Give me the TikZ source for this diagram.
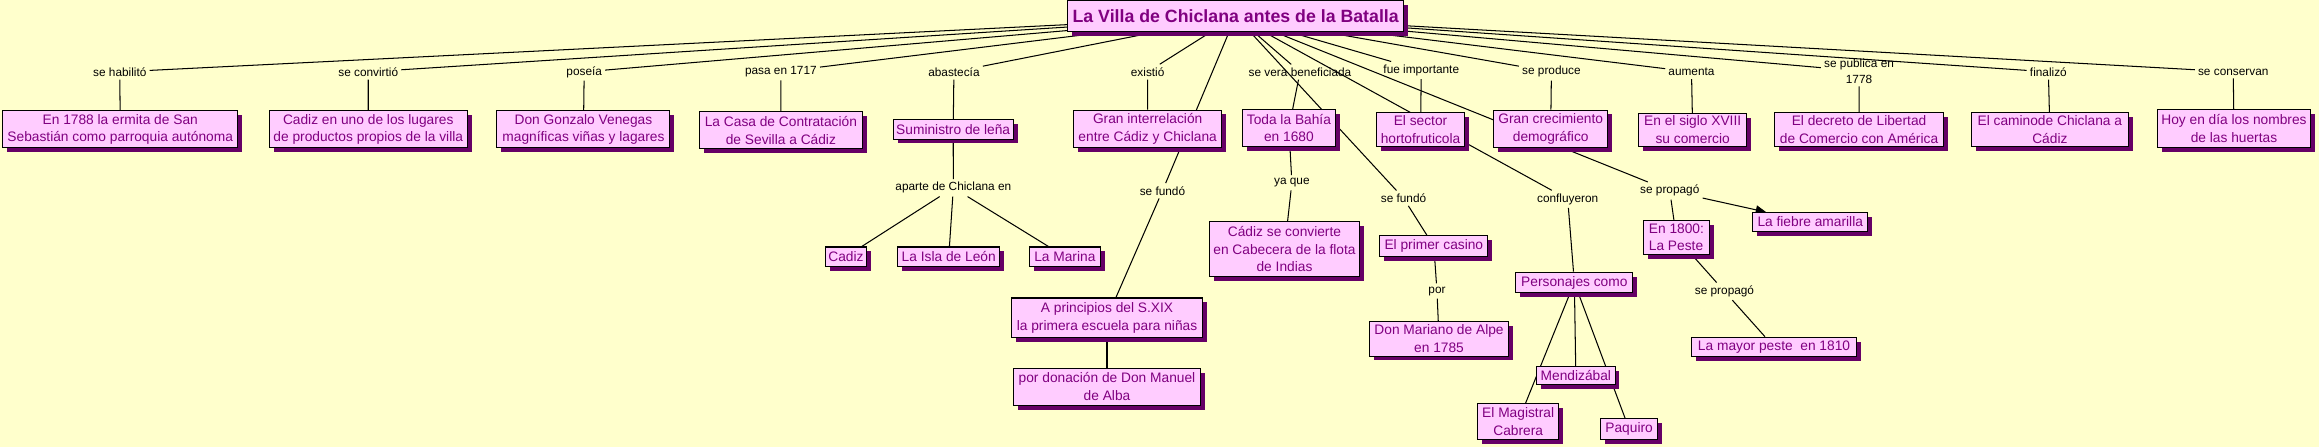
\documentclass[tikz,border=0pt]{standalone}
\usepackage{fontspec}
\setmainfont{Liberation Sans}
\usetikzlibrary{shadows,arrows.meta}
\definecolor{bgc}{HTML}{FFFFCC}
\definecolor{boxpink}{HTML}{FFCCFF}
\definecolor{boxtext}{HTML}{800080}
\definecolor{shadowc}{HTML}{660066}
\pgfdeclarelayer{bg}
\pgfsetlayers{bg,main}
\newcommand{\bxfont}{\fontsize{9.3}{12}\selectfont}
\newcommand{\lbfont}{\fontsize{8}{10.6}\selectfont}
\tikzset{
  cbox/.style={draw=black, line width=0.7pt, fill=boxpink, text=boxtext, font=\bxfont,
    align=center, inner sep=1pt,
    general shadow={fill=shadowc, shadow xshift=3pt, shadow yshift=-3pt}},
  lbl/.style={font=\lbfont, text=black, inner sep=2pt, align=center},
  conn/.style={draw=black, line width=0.7pt}
}
\begin{document}
\begin{tikzpicture}[x=1pt,y=-1pt]
\useasboundingbox (0,0) rectangle (1568,302);

% root
\node[cbox, font=\bfseries\fontsize{12}{14}\selectfont, minimum width=227pt, minimum height=21pt] (root) at (835.5,11) {La Villa de Chiclana antes de la Batalla};

% first row labels
\node[lbl] (hab) at (81,48.6) {se habilitó};
\node[lbl] (conv) at (249,48.6) {se convirtió};
\node[lbl] (pos) at (395,48.6) {poseía};
\node[lbl] (pasa) at (528,48.6) {pasa en 1717};
\node[lbl] (abas) at (645,48.6) {abastecía};
\node[lbl] (exis) at (776,48.6) {existió};
\node[lbl] (vera) at (879,48.7) {se vera beneficiada};
\node[lbl] (fue) at (961,47.5) {fue importante};
\node[lbl] (prod) at (1049,48.6) {se produce};
\node[lbl] (aum) at (1143.7,48.6) {aumenta};
\node[lbl] (publ) at (1257,48) {se publica en\\1778};
\node[lbl] (fin) at (1385,48.6) {finalizó};
\node[lbl] (cons) at (1510,48.6) {se conservan};

% first row boxes
\node[cbox, minimum width=159pt, minimum height=25pt] (b1) at (81.3,87.5) {En 1788 la ermita de San\\Sebastián como parroquia autónoma};
\node[cbox, minimum width=134pt, minimum height=25pt] (b2) at (249,87.5) {Cadiz en uno de los lugares\\de productos propios de la villa};
\node[cbox, minimum width=117pt, minimum height=25pt] (b3) at (394.5,87.5) {Don Gonzalo Venegas\\magníficas viñas y lagares};
\node[cbox, minimum width=110pt, minimum height=25pt] (b4) at (528,88) {La Casa de Contratación\\de Sevilla a Cádiz};
\node[cbox, minimum width=81pt, minimum height=13pt] (sumi) at (644.5,87.5) {Suministro de leña};
\node[cbox, minimum width=100pt, minimum height=25.6pt] (gran) at (776,87.2) {Gran interrelación\\entre Cádiz y Chiclana};
\node[cbox, minimum width=63pt, minimum height=25pt] (bahia) at (871.5,86.5) {Toda la Bahía\\en 1680};
\node[cbox, minimum width=59pt, minimum height=23pt] (sector) at (960.5,87.5) {El sector\\hortofruticola};
\node[cbox, minimum width=77pt, minimum height=25.6pt] (crec) at (1048.5,87.2) {Gran crecimiento\\demográfico};
\node[cbox, minimum width=73pt, minimum height=22.4pt] (siglo) at (1144.5,87.8) {En el siglo XVIII\\su comercio};
\node[cbox, minimum width=114pt, minimum height=23pt] (decreto) at (1257,87.5) {El decreto de Libertad\\de Comercio con América};
\node[cbox, minimum width=106pt, minimum height=23pt] (camino) at (1386,87.5) {El caminode Chiclana a\\Cádiz};
\node[cbox, minimum width=103pt, minimum height=26pt] (hoy) at (1510.5,87) {Hoy en día los nombres\\de las huertas};

% lower labels
\node[lbl] (aparte) at (644.6,127) {aparte de Chiclana en};
\node[lbl] (fundo1) at (786,129) {se fundó};
\node[lbl] (yaque) at (873.5,123.6) {ya que};
\node[lbl] (fundo2) at (949,134) {se fundó};
\node[lbl] (por) at (971.6,196.8) {por};
\node[lbl] (conf) at (1060,134.6) {confluyeron};
\node[lbl] (prop1) at (1129,129) {se propagó};
\node[lbl] (prop2) at (1166,197) {se propagó};

% lower boxes
\node[cbox, minimum width=28pt, minimum height=13pt] (cadiz) at (572,173.5) {Cadiz};
\node[cbox, minimum width=69pt, minimum height=13pt] (isla) at (641.5,173.5) {La Isla de León};
\node[cbox, minimum width=48pt, minimum height=13pt] (marina) at (720,173.5) {La Marina};
\node[cbox, minimum width=129pt, minimum height=27pt] (aprin) at (748.5,215) {A principios del S.XIX\\la primera escuela para niñas};
\node[cbox, minimum width=127pt, minimum height=25pt] (dona) at (748.5,261.5) {por donación de Don Manuel\\de Alba};
\node[cbox, minimum width=101pt, minimum height=37pt] (cadizcab) at (868.5,168.5) {Cádiz se convierte\\en Cabecera de la flota\\de Indias};
\node[cbox, minimum width=73pt, minimum height=14pt] (casino) at (969.5,166.5) {El primer casino};
\node[cbox, minimum width=94.5pt, minimum height=23.5pt] (alpe) at (973,229) {Don Mariano de Alpe\\en 1785};
\node[cbox, minimum width=79pt, minimum height=14pt] (perso) at (1064.5,191) {Personajes como};
\node[cbox, minimum width=53pt, minimum height=12.5pt] (mendi) at (1065.5,254) {Mendizábal};
\node[cbox, minimum width=55pt, minimum height=24pt] (magis) at (1026.5,285) {El Magistral\\Cabrera};
\node[cbox, minimum width=39pt, minimum height=14pt] (paquiro) at (1101.5,290) {Paquiro};
\node[cbox, minimum width=78pt, minimum height=12.5pt] (fiebre) at (1224,150) {La fiebre amarilla};
\node[cbox, align=left, minimum width=45pt, minimum height=23pt] (peste) at (1133.5,160.5) {En 1800:\\La Peste};
\node[cbox, minimum width=111pt, minimum height=13pt] (mayor) at (1199.5,234.5) {La mayor peste\ \ en 1810};

\begin{pgfonlayer}{bg}
\fill[bgc] (0,0) rectangle (1568,302);
\draw[conn] (root) -- (hab) (hab) -- (b1);
\draw[conn] (root) -- (conv) (conv) -- (b2);
\draw[conn] (root) -- (pos) (pos) -- (b3);
\draw[conn] (root) -- (pasa) (pasa) -- (b4);
\draw[conn] (root) -- (abas) (abas) -- (sumi);
\draw[conn] (root) -- (exis) (exis) -- (gran);
\draw[conn] (root) -- (fundo1) (fundo1) -- (aprin);
\draw[conn] (aprin) -- (dona);
\draw[conn] (sumi) -- (aparte);
\draw[conn] (aparte) -- (cadiz) (aparte) -- (isla) (aparte) -- (marina);
\draw[conn] (root) -- (vera) (vera) -- (bahia);
\draw[conn] (bahia) -- (yaque) (yaque) -- (cadizcab);
\draw[conn] (root) -- (fundo2) (fundo2) -- (casino);
\draw[conn] (casino) -- (por) (por) -- (alpe);
\draw[conn] (root) -- (fue) (fue) -- (sector);
\draw[conn] (root) -- (conf) (conf) -- (perso);
\draw[conn] (perso) -- (mendi) (perso) -- (magis) (perso) -- (paquiro);
\draw[conn] (root) -- (prod) (prod) -- (crec);
\draw[conn] (root) -- (prop1) (prop1) -- (peste);
\draw[conn, -{Triangle[length=7pt,width=6pt]}] (prop1) -- (fiebre);
\draw[conn] (peste) -- (prop2) (prop2) -- (mayor);
\draw[conn] (root) -- (aum) (aum) -- (siglo);
\draw[conn] (root) -- (publ) (publ) -- (decreto);
\draw[conn] (root) -- (fin) (fin) -- (camino);
\draw[conn] (root) -- (cons) (cons) -- (hoy);
\end{pgfonlayer}
\end{tikzpicture}
\end{document}
